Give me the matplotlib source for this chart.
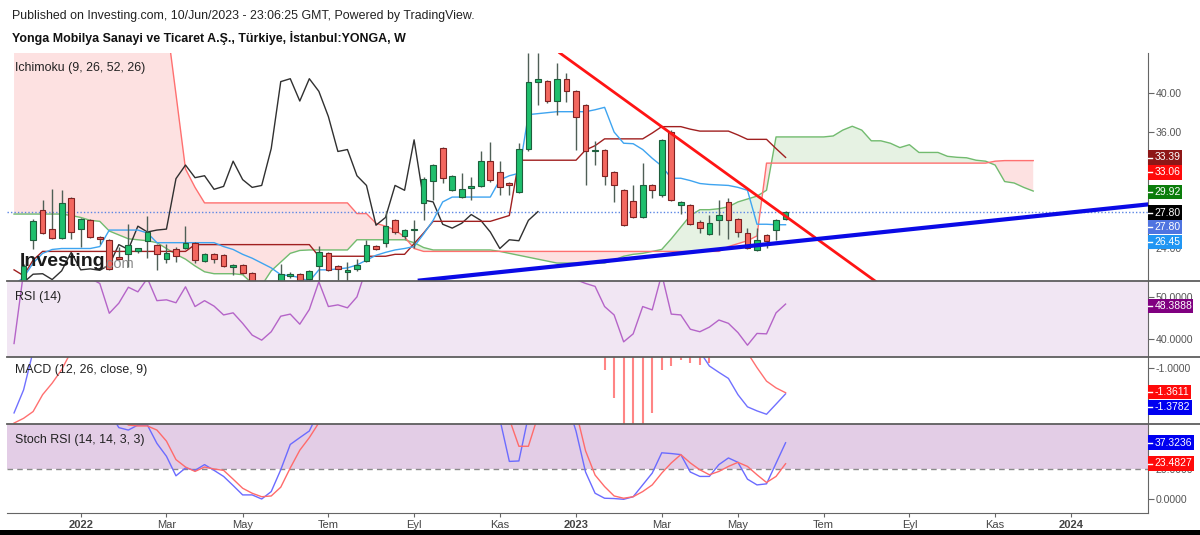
import numpy as np
import matplotlib
matplotlib.use("Agg")
import matplotlib.pyplot as plt
from matplotlib.lines import Line2D
from matplotlib.patches import Rectangle

plt.rcParams['font.family'] = ['Liberation Sans', 'DejaVu Sans']

nan = float("nan")

# weekly bars, week 0 = bar of 3 Jan 2022, week 74 = bar of 5 Jun 2023
weeks = np.arange(-7, 75)

opens = [20.4, 20.3, 24.9, 28.0, 26.0, 25.1, 29.2, 26.0, 26.9, 25.2,
         24.9, 23.1, 23.4, 23.7, 24.8, 24.4, 22.9, 23.9, 24.0, 24.6,
         22.7, 23.4, 23.3, 22.1, 22.3, 21.5, 20.6, 20.2, 20.5, 21.2,
         21.4, 20.9, 22.2, 23.5, 22.2, 21.6, 21.85, 22.7, 24.3, 24.6,
         26.9, 25.3, 25.9, 28.7, 31.0, 34.4, 30.0, 29.3, 30.2, 30.4,
         33.0, 31.9, 30.8, 29.8, 34.3, 41.2, 41.3, 39.2, 41.5, 40.2,
         38.8, 34.1, 34.2, 31.9, 30.0, 28.9, 27.2, 30.5, 29.5, 36.0,
         28.5, 28.5, 26.7, 25.5, 26.9, 28.8, 27.0, 25.6, 23.8, 25.4,
         25.9, 27.0]
highs = [20.6, 22.4, 27.0, 29.0, 30.1, 30.0, 29.3, 27.1, 27.0, 25.3,
         25.0, 24.2, 26.5, 24.1, 27.3, 24.5, 24.5, 24.2, 26.3, 24.7,
         23.5, 23.5, 23.4, 22.4, 22.4, 21.6, 20.6, 20.6, 22.4, 21.6,
         21.5, 21.8, 24.3, 23.6, 22.3, 22.6, 22.9, 24.9, 24.4, 27.9,
         27.0, 26.0, 26.9, 31.4, 32.7, 34.5, 31.6, 31.8, 31.4, 34.0,
         35.0, 33.0, 30.9, 34.9, 44.2, 44.2, 41.4, 43.1, 42.1, 40.3,
         38.9, 35.1, 34.3, 32.0, 30.1, 30.5, 32.8, 30.6, 35.3, 36.2,
         28.9, 28.6, 26.9, 27.5, 29.0, 29.2, 27.1, 26.1, 26.1, 25.5,
         27.0, 27.9]
lows = [19.8, 20.0, 23.9, 25.5, 25.0, 25.0, 25.0, 24.2, 25.1, 24.5,
        21.8, 22.8, 22.1, 23.5, 23.0, 21.8, 22.5, 22.6, 23.9, 22.5,
        22.6, 22.5, 22.1, 21.3, 21.4, 20.4, 20.0, 19.9, 20.3, 21.0,
        20.7, 20.8, 20.7, 21.7, 20.8, 20.7, 21.7, 22.6, 23.8, 24.2,
        25.5, 25.0, 24.0, 26.9, 29.0, 30.7, 29.9, 29.2, 29.0, 30.3,
        30.9, 29.5, 29.5, 29.7, 34.0, 38.8, 39.0, 37.8, 39.1, 34.2,
        30.5, 32.6, 30.5, 28.8, 26.3, 27.1, 27.1, 29.2, 29.3, 28.9,
        27.6, 26.4, 25.6, 25.4, 25.4, 25.0, 25.2, 23.9, 23.7, 24.0,
        24.9, 26.9]
closes = [20.0, 22.2, 26.8, 25.6, 25.1, 28.7, 25.7, 27.0, 25.2, 25.0,
          21.9, 22.9, 24.4, 24.0, 25.7, 23.4, 23.5, 23.2, 24.6, 22.8,
          23.4, 22.9, 22.2, 22.3, 21.5, 20.6, 20.2, 20.5, 21.35, 21.4,
          20.8, 21.7, 23.6, 21.8, 21.9, 21.75, 22.3, 24.4, 23.9, 26.3,
          25.7, 25.9, 26.0, 31.2, 32.6, 31.3, 31.5, 30.1, 30.4, 33.0,
          31.1, 30.3, 30.5, 34.3, 41.2, 41.5, 39.2, 41.5, 40.2, 37.6,
          34.0, 34.2, 31.5, 30.5, 26.4, 27.2, 30.5, 30.0, 35.2, 29.0,
          28.8, 26.5, 26.1, 26.6, 27.5, 26.9, 25.7, 24.0, 24.9, 24.8,
          26.9, 27.8]

tenkan = [20.3, 21.0, 22.5, 23.5, 23.9, 24.0, 24.0, 24.0, 24.0, 24.2,
          25.9, 25.9, 25.9, 25.9, 25.6, 24.6, 24.6, 24.6, 24.6, 24.6,
          24.6, 24.6, 24.2, 23.9, 23.4, 23.0, 22.5, 22.0, 21.3, 21.2,
          21.0, 20.6, 21.8, 21.8, 21.9, 22.0, 22.3, 22.8, 23.3, 23.6,
          23.85, 24.0, 24.2, 25.5, 26.9, 28.8, 29.3, 29.3, 29.3, 29.3,
          29.3, 31.06, 31.5, 31.75, 37.8, 37.9, 38.0, 38.1, 38.1, 38.1,
          38.1, 38.3, 38.55, 36.0, 34.85, 34.8, 34.2, 33.3, 32.5, 31.24,
          31.24, 31.0, 30.7, 30.6, 30.55, 30.5, 30.3, 30.0, 26.5, 26.5,
          26.45, 26.45]
kijun = [21.8, 21.2, 22.8, 23.7, 23.7, 23.7, 23.7, 23.7, 23.7, 23.7,
         23.7, 23.7, 23.7, 23.7, 23.7, 23.7, 23.7, 23.7, 23.7, 24.4,
         24.4, 24.4, 24.4, 24.4, 24.4, 24.4, 24.4, 24.4, 24.4, 24.4,
         24.4, 24.4, 23.2, 23.2, 23.2, 23.2, 23.2, 23.2, 23.2, 23.2,
         23.4, 23.4, 24.5, 25.6, 26.8, 26.8, 26.8, 26.8, 26.8, 26.8,
         26.8, 27.1, 27.4, 33.1, 33.1, 33.1, 33.1, 33.1, 33.1, 33.1,
         34.15, 34.6, 35.3, 35.3, 35.3, 35.3, 35.3, 35.9, 36.56, 36.56,
         36.56, 36.3, 36.1, 36.1, 36.1, 36.1, 35.7, 35.25, 35.25, 35.25,
         34.3, 33.39]

# leading spans are shifted 26 bars ahead: weeks -7 .. 100
cloud_weeks = np.arange(-7, 101)
senkou_a = [27.55, 27.55, 27.55, 27.55, 27.55, 27.55, 27.4, 27.2, 26.9, 26.8,
            25.8, 25.4, 25.0, 24.9, 24.8, 24.6, 24.0, 23.4, 22.9, 22.2,
            21.6, 21.4, 21.4, 21.4, 21.3, 20.4, 20.2, 21.7, 22.6, 23.5,
            23.8, 23.85, 23.85, 23.85, 23.85, 23.85, 24.9, 24.9, 24.9, 24.9,
            24.9, 24.9, 24.6, 24.1, 23.85, 23.85, 23.85, 23.85, 23.85, 23.85,
            23.85, 23.7, 23.5, 23.3, 23.1, 22.9, 22.7, 22.5, 22.5, 22.5,
            22.5, 22.5, 22.5, 22.8, 23.2, 23.4, 23.5, 23.7, 23.9, 25.0,
            26.2, 27.4, 28.0, 28.0, 28.1, 28.3, 28.8, 29.1, 29.4, 30.0,
            35.5, 35.5, 35.5, 35.5, 35.5, 35.5, 35.6, 36.2, 36.6, 36.2,
            35.1, 35.1, 34.85, 34.4, 34.7, 33.9, 33.9, 33.9, 33.5, 33.4,
            33.35, 33.1, 33.0, 32.6, 30.9, 30.75, 30.3, 29.92]
senkou_b = [48.0, 48.0, 48.0, 48.0, 48.0, 48.0, 48.0, 48.0, 48.0, 48.0,
            48.0, 48.0, 48.0, 48.0, 48.0, 48.0, 47.5, 39.9, 32.2, 30.3,
            28.7, 28.7, 28.7, 28.7, 28.7, 28.7, 28.7, 28.7, 28.7, 28.7,
            28.7, 28.7, 28.7, 28.7, 28.7, 28.7, 27.6, 27.6, 26.6, 26.3,
            25.9, 25.2, 24.0, 23.7, 23.7, 23.7, 23.7, 23.7, 23.7, 23.7,
            23.7, 23.7, 23.7, 23.7, 23.7, 23.7, 23.7, 23.7, 23.7, 23.7,
            23.7, 23.7, 23.7, 23.7, 23.7, 23.7, 23.7, 23.7, 23.7, 23.7,
            23.7, 23.7, 23.7, 23.7, 23.7, 24.2, 24.5, 24.8, 25.3, 32.8,
            32.8, 32.8, 32.8, 32.8, 32.8, 32.8, 32.8, 32.8, 32.8, 32.8,
            32.8, 32.8, 32.8, 32.8, 32.8, 32.8, 32.8, 32.8, 32.8, 32.8,
            32.8, 32.8, 32.8, 33.0, 33.06, 33.06, 33.06, 33.06]

rsi = [39.0, 56.0, nan, nan, nan, nan, nan, nan, 54.5, 53.3,
       46.2, 48.6, 52.4, 51.3, 54.5, 49.2, 49.4, 48.7, 52.5, 47.8,
       49.2, 47.9, 45.8, 46.3, 43.8, 41.0, 39.8, 41.8, 45.5, 46.0,
       43.6, 47.1, 53.7, 47.8, 48.2, 47.5, 50.1, 57.0, nan, nan,
       nan, nan, nan, nan, nan, nan, nan, nan, nan, nan,
       nan, nan, nan, nan, nan, nan, nan, nan, 57.0, 54.2,
       53.3, 52.6, 47.8, 45.8, 39.4, 41.3, 47.8, 47.0, 55.5, 46.0,
       45.8, 42.4, 41.8, 42.9, 44.6, 43.8, 41.6, 38.6, 41.4, 41.3,
       46.3, 48.3888]

macd = [-1.66, -1.32, -0.75, nan, nan, nan, nan, nan, nan, nan,
        nan, nan, nan, nan, nan, nan, nan, nan, nan, nan,
        nan, nan, nan, nan, nan, nan, nan, nan, nan, nan,
        nan, nan, nan, nan, nan, nan, nan, nan, nan, nan,
        nan, nan, nan, nan, nan, nan, nan, nan, nan, nan,
        nan, nan, nan, nan, nan, nan, nan, nan, nan, nan,
        nan, nan, nan, nan, nan, nan, nan, nan, nan, nan,
        nan, nan, -0.75, -0.966, -1.06, -1.15, -1.39, -1.57, -1.63, -1.68,
        -1.53, -1.3782]
signal = [-1.81, -1.74, -1.64, -1.39, -1.22, -1.02, -0.75, nan, nan, nan,
          nan, nan, nan, nan, nan, nan, nan, nan, nan, nan,
          nan, nan, nan, nan, nan, nan, nan, nan, nan, nan,
          nan, nan, nan, nan, nan, nan, nan, nan, nan, nan,
          nan, nan, nan, nan, nan, nan, nan, nan, nan, nan,
          nan, nan, nan, nan, nan, nan, nan, nan, nan, nan,
          nan, nan, nan, nan, nan, nan, nan, nan, nan, nan,
          nan, nan, nan, nan, nan, nan, -0.60, -0.77, -0.99, -1.19,
          -1.29, -1.3611]
hist = [nan, nan, nan, nan, nan, nan, nan, nan, nan, nan,
        nan, nan, nan, nan, nan, nan, nan, nan, nan, nan,
        nan, nan, nan, nan, nan, nan, nan, nan, nan, nan,
        nan, nan, nan, nan, nan, nan, nan, nan, nan, nan,
        nan, nan, nan, nan, nan, nan, nan, nan, nan, nan,
        nan, nan, nan, nan, nan, nan, nan, nan, nan, nan,
        nan, nan, -1.025, -1.435, -2.2, -2.3, -2.1, -1.657, -1.025, -0.96,
        -0.877, -0.917, -0.951, -0.917, nan, nan, nan, nan, nan, nan,
        nan, nan]

stoch_k = [nan, nan, nan, nan, nan, nan, nan, nan, nan, nan,
           58, 47.3, 45.7, 49, 49, 36.9, 28.4, 15.5, 20.7, 19.1,
           22.9, 19.1, 15.1, 9.1, 2.9, 2.9, 0.2, 5.1, 19.5, 36.2,
           40.7, 45.1, 58, nan, nan, nan, nan, nan, nan, nan,
           nan, nan, nan, nan, nan, nan, nan, nan, nan, nan,
           nan, 53, 25, 25.3, 55, nan, nan, nan, 65, 45,
           18, 4, 0.7, 0.5, 0, 1.7, 9.5, 17.3, 30.7, 30.2,
           29.5, 18, 15.1, 15.1, 22.9, 27.3, 24.4, 13.3, 9.5, 10.2,
           23.8, 37.3236]
stoch_d = [nan, nan, nan, nan, nan, nan, nan, nan, nan, nan,
           nan, 55, 49, 48.4, 48.4, 45.7, 38.4, 26.2, 21.3, 18.4,
           21.3, 20, 19.1, 13.3, 7.3, 4, 1.7, 2.2, 8, 20.7,
           32.4, 40.7, 50.5, 58, nan, nan, nan, nan, nan, nan,
           nan, nan, nan, nan, nan, nan, nan, nan, nan, nan,
           nan, nan, 53, 35, 35, 55, nan, nan, nan, 58,
           32, 16, 8.4, 2.2, 0.7, 1.7, 5.1, 9.5, 17.3, 24,
           29.5, 24, 19.5, 16.2, 18.4, 21.7, 24.4, 21.7, 16.2, 11.1,
           15.1, 23.4827]

tick_weeks = [0, 9, 17, 26, 35, 44, 52, 61, 69, 78, 87, 96, 104]
tick_labels = ['2022', 'Mar', 'May', 'Tem', 'Eyl', 'Kas', '2023',
               'Mar', 'May', 'Tem', 'Eyl', 'Kas', '2024']

# hand drawn trend lines (week, price)
red_trend_x, red_trend_y = [50.3, 83.4], [44.15, 20.65]
blue_trend_x, blue_trend_y = [35.6, 112.0], [20.70, 28.54]

W, H = 1200, 535
XMIN, XMAX = -7.74, 112.05


def fx(x):
    return x / W


def fy(y):
    return 1 - y / H


fig = plt.figure(figsize=(W / 100, H / 100), dpi=100)


def panel(top, bottom, ylim):
    ax = fig.add_axes([fx(7), fy(bottom), 1141 / W, (bottom - top) / H])
    ax.set_xlim(XMIN, XMAX)
    ax.set_ylim(*ylim)
    for s in ['top', 'left', 'bottom']:
        ax.spines[s].set_visible(False)
    ax.spines['right'].set_color('#666666')
    ax.yaxis.tick_right()
    ax.tick_params(axis='y', length=4, color='#666666', labelcolor='#555555',
                   labelsize=7.6, pad=1.5)
    ax.tick_params(axis='x', bottom=False, labelbottom=False)
    return ax


ax = panel(53, 281, (20.65, 44.15))
ax_rsi = panel(281, 357, (35.79, 53.88))
ax_macd = panel(357, 424, (-1.824, -0.833))
ax_st = panel(424, 513, (-9.04, 49.7))

# ---- main panel: ichimoku + candles
a = np.array(senkou_a)
b = np.array(senkou_b)
ax.fill_between(cloud_weeks, a, b, where=a >= b, interpolate=True,
                color='#e6f2e3', lw=0, zorder=1)
ax.fill_between(cloud_weeks, a, b, where=a < b, interpolate=True,
                color='#fde1e1', lw=0, zorder=1)
ax.plot(cloud_weeks, a, color='#72bb6f', lw=1, zorder=2)
ax.plot(cloud_weeks, b, color='#ff7070', lw=1, zorder=2)
ax.axhline(27.80, color='#5b86e5', lw=1, ls=(0, (1, 1.5)), zorder=2)
ax.plot(weeks - 26, closes, color='#303030', lw=1, zorder=3)
ax.plot(weeks, kijun, color='#a02020', lw=1, zorder=3)
ax.plot(weeks, tenkan, color='#3ea4f0', lw=1, zorder=3)

o = np.array(opens)
c = np.array(closes)
up = c >= o
ax.vlines(weeks, lows, highs, color='#4f5f56', lw=1, zorder=4)
body_lo = np.minimum(o, c)
body_h = np.maximum(np.abs(c - o), 0.1)
ax.bar(weeks[up], body_h[up], bottom=body_lo[up], width=0.6,
       color='#1fbf6d', edgecolor='#1d5f3c', lw=0.8, zorder=5)
ax.bar(weeks[~up], body_h[~up], bottom=body_lo[~up], width=0.6,
       color='#f3675f', edgecolor='#7e2222', lw=0.8, zorder=5)

ax.plot(red_trend_x, red_trend_y, color='#ff1414', lw=2, zorder=6)
ax.plot(blue_trend_x, blue_trend_y, color='#0a0ae6', lw=3, zorder=6)
# 28.00 and 32.00 sit fully behind the value boxes in the reference
ax.set_yticks([24, 28, 32, 36, 40])
ax.set_yticklabels(['24.00', '', '', '36.00', '40.00'])

ax.text(0.007, 0.935, 'Ichimoku (9, 26, 52, 26)', transform=ax.transAxes,
        fontsize=8.9, color='#222222', va='center')
fig.text(fx(20), fy(261), 'Investing', fontsize=14, fontweight='bold',
         color='#1a1a1a', va='center', zorder=8)
fig.text(fx(103), fy(264), '.com', fontsize=10.5, color='#8a8a8a',
         va='center', zorder=8)

# ---- RSI
ax_rsi.axhspan(30, 70, color='#f1e6f3', lw=0, zorder=0)
ax_rsi.plot(weeks, rsi, color='#b564c8', lw=1)
ax_rsi.set_yticks([40, 50])
ax_rsi.set_yticklabels(['40.0000', '50.0000'])
ax_rsi.text(0.007, 0.79, 'RSI (14)', transform=ax_rsi.transAxes,
            fontsize=8.9, color='#222222', va='center')

# ---- MACD
ax_macd.vlines(weeks, 0, hist, color='#ff8585', lw=1.5)
ax_macd.plot(weeks, macd, color='#7070ff', lw=1)
ax_macd.plot(weeks, signal, color='#ff7070', lw=1)
ax_macd.set_yticks([-1.0])
ax_macd.set_yticklabels(['-1.0000'])
ax_macd.text(0.007, 0.8, 'MACD (12, 26, close, 9)', transform=ax_macd.transAxes,
             fontsize=8.9, color='#222222', va='center')

# ---- Stoch RSI
ax_st.axhspan(20, 80, color='#e3cde6', lw=0, zorder=0)
ax_st.axhline(20, color='#8a8a8a', lw=1, ls=(0, (4, 3)), zorder=1)
ax_st.plot(weeks, stoch_k, color='#6b6bff', lw=1, zorder=2)
ax_st.plot(weeks, stoch_d, color='#ff6b6b', lw=1, zorder=2)
ax_st.set_yticks([0, 20])
ax_st.set_yticklabels(['0.0000', '20.0000'])
ax_st.text(0.007, 0.82, 'Stoch RSI (14, 14, 3, 3)', transform=ax_st.transAxes,
           fontsize=8.9, color='#222222', va='center')
ax_st.spines['bottom'].set_visible(True)
ax_st.spines['bottom'].set_color('#666666')
ax_st.set_xticks(tick_weeks)
ax_st.set_xticklabels(tick_labels)
ax_st.tick_params(axis='x', bottom=True, labelbottom=True, length=3,
                  color='#666666', labelcolor='#444444', labelsize=8, pad=2)
for lab in ax_st.get_xticklabels():
    if lab.get_text().isdigit():
        lab.set_fontweight('bold')

# panel separators
for y in [281, 357, 424]:
    fig.add_artist(Line2D([fx(7), 1], [fy(y), fy(y)], transform=fig.transFigure,
                          color='#5e5e5e', lw=1.3, zorder=9))

# last value boxes on the price scale


def value_box(yc, text, color, x1):
    fig.add_artist(Rectangle((fx(1147.5), fy(yc + 7.2)), (x1 - 1147.5) / W, 14.4 / H,
                             transform=fig.transFigure, facecolor=color,
                             edgecolor='none', zorder=10))
    fig.add_artist(Line2D([fx(1148), fx(1152)], [fy(yc), fy(yc)],
                          transform=fig.transFigure, color='white', lw=1, zorder=11))
    fig.text(fx(1154.5), fy(yc), text, color='white', fontsize=7.5,
             va='center', ha='left', zorder=12)


value_box(157.5, '33.39', '#8e1717', 1182)
value_box(172.3, '33.06', '#ff0a0a', 1182)
value_box(192.0, '29.92', '#0b7d0b', 1182)
value_box(212.6, '27.80', '#000000', 1182)
value_box(227.2, '27.80', '#4f74e0', 1182)
value_box(242.0, '26.45', '#2196f3', 1182)
value_box(305.7, '48.3888', '#800080', 1193)
value_box(392.2, '-1.3611', '#ff0a0a', 1191)
value_box(407.4, '-1.3782', '#0000f0', 1192)
value_box(442.5, '37.3236', '#0000f0', 1194)
value_box(463.5, '23.4827', '#ff0a0a', 1194)

# header
fig.text(fx(12), fy(16), 'Published on Investing.com, 10/Jun/2023 - 23:06:25 GMT, Powered by TradingView.',
         fontsize=8.95, color='#222222', va='center')
fig.text(fx(12), fy(38), 'Yonga Mobilya Sanayi ve Ticaret A.Ş., Türkiye, İstanbul:YONGA, W',
         fontsize=8.9, fontweight='bold', color='#111111', va='center')

# black strip at the bottom
fig.add_artist(Rectangle((0, 0), 1, 5 / H, transform=fig.transFigure,
                         facecolor='black', edgecolor='none', zorder=12))

fig.savefig('out.png', dpi=100)
